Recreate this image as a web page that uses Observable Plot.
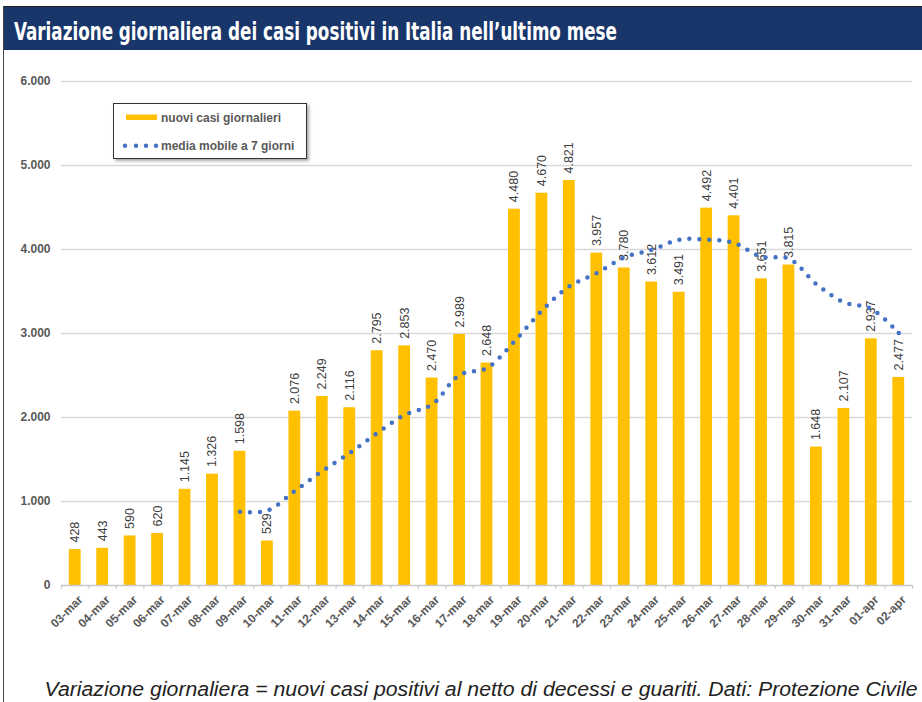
<!DOCTYPE html>
<html><head><meta charset="utf-8">
<script src="https://cdn.jsdelivr.net/npm/d3@7"></script>
<script src="https://cdn.jsdelivr.net/npm/@observablehq/plot@0.6"></script>
<style>
body{margin:0;background:#fff;font-family:"Liberation Sans",Arial,Helvetica,sans-serif;}
#page{position:relative;width:922px;height:702px;overflow:hidden;background:#fff;}
#frameTop{position:absolute;left:3px;top:6px;width:919px;height:1px;background:#222;}
#frameLeft{position:absolute;left:3px;top:6px;width:1px;height:696px;background:#444;}
#titlebar{position:absolute;left:4px;top:7px;width:918px;height:43px;background:#19366b;}
#titlebar svg{position:absolute;left:0;top:0;}
#chart{position:absolute;left:0;top:50px;}
#legend{position:absolute;left:113px;top:103px;width:192px;height:54px;border:1px solid #333;background:#fff;box-shadow:2px 2px 3px rgba(0,0,0,0.35);}
#legend svg{position:absolute;left:-1px;top:-1px;overflow:visible;}
#caption{position:absolute;left:0;top:660px;}
</style>
</head><body>
<div id="page">
  <div id="titlebar"></div>
  <div id="frameTop"></div>
  <div id="frameLeft"></div>
  <div id="chart"></div>
  <div id="legend"></div>
  <div id="caption"></div>
</div>
<script>
const titleText = "Variazione giornaliera dei casi positivi in Italia nell’ultimo mese";
const captionText = "Variazione giornaliera = nuovi casi positivi al netto di decessi e guariti. Dati: Protezione Civile";
const legendLabels = ["nuovi casi giornalieri", "media mobile a 7 giorni"];

const dates = ["03-mar","04-mar","05-mar","06-mar","07-mar","08-mar","09-mar","10-mar","11-mar","12-mar",
  "13-mar","14-mar","15-mar","16-mar","17-mar","18-mar","19-mar","20-mar","21-mar","22-mar","23-mar",
  "24-mar","25-mar","26-mar","27-mar","28-mar","29-mar","30-mar","31-mar","01-apr","02-apr"];
const newCases = [428,443,590,620,1145,1326,1598,529,2076,2249,2116,2795,2853,2470,2989,2648,4480,4670,4821,
  3957,3780,3612,3491,4492,4401,3651,3815,1648,2107,2937,2477];
const movingAvg = [null,null,null,null,null,null,879,893,1126,1363,1577,1813,2031,2155,2507,2589,2907,3272,3562,
  3719,3906,3995,4116,4118,4079,3912,3892,3587,3372,3293,3005];
const yTicks = [0,1000,2000,3000,4000,5000,6000];

const barColor = "#FFC000";
const lineColor = "#4472C4";

const it = d3.formatLocale({decimal:",", thousands:".", grouping:[3], currency:["","€"]});
const fmt = it.format(",.0f");

const data = dates.map((d,i)=>({date:d, cases:newCases[i], avg:movingAvg[i]}));
const avgData = data.filter(d => d.avg != null);

const W = 922, H = 600, ML = 61, MR = 10;
const step = (W - ML - MR) / dates.length;
const FONT = '"Liberation Sans", Arial, Helvetica, sans-serif';

const chart = Plot.plot({
  width: W, height: H,
  marginLeft: ML, marginRight: MR, marginTop: 31, marginBottom: 65,
  style: {fontFamily: FONT, background: "transparent", overflow: "visible"},
  x: {type: "band", domain: dates, paddingInner: 0.57, paddingOuter: 0.285, round: false, label: null, axis: null},
  y: {domain: [0, 6000], label: null},
  marks: [
    Plot.gridY(yTicks.filter(v => v > 0), {stroke: "#d9d9d9", strokeOpacity: 1, strokeWidth: 1.5}),
    Plot.axisY(yTicks, {tickSize: 0, tickPadding: 11, tickFormat: fmt, fontWeight: "bold", fontSize: 12, fill: "#595959", label: null}),
    Plot.barY(data, {x: "date", y: "cases", fill: barColor}),
    Plot.ruleY([0], {stroke: "#c8c8c8", strokeWidth: 1.5}),
    Plot.ruleX(dates, {x: d => d, y1: 0, y2: -45, dx: -step/2, stroke: "#c8c8c8", strokeWidth: 1.2}),
    Plot.ruleX([dates[dates.length-1]], {x: d => d, y1: 0, y2: -45, dx: step/2, stroke: "#c8c8c8", strokeWidth: 1.2}),
    Plot.text(dates, {x: d => d, frameAnchor: "bottom", text: d => d, rotate: -45, textAnchor: "end", lineAnchor: "top", dx: 2, dy: 9, fontSize: 12, fontWeight: "bold", fill: "#595959"}),
    Plot.text(data, {x: "date", y: "cases", text: d => fmt(d.cases), rotate: -90, textAnchor: "start", lineAnchor: "middle", dy: -7, fontSize: 12.5, fill: "#404040"}),
    Plot.line(avgData, {x: "date", y: "avg", curve: "catmull-rom", stroke: lineColor, strokeWidth: 4.5, strokeDasharray: "0 10", strokeLinecap: "round"}),
    Plot.dot(avgData.slice(-1), {x: "date", y: "avg", r: 2.25, fill: lineColor})
  ]
});
document.getElementById("chart").appendChild(chart);

// title
const tsvg = d3.select("#titlebar").append("svg").attr("width", 918).attr("height", 43);
tsvg.append("text").attr("x", 10).attr("y", 32.5)
  .attr("fill", "#fff")
  .attr("font-family", '"Liberation Sans Narrow","DejaVu Sans Condensed","Liberation Sans",Arial,sans-serif')
  .attr("font-weight", "bold").attr("font-size", 24)
  .attr("textLength", 603).attr("lengthAdjust", "spacingAndGlyphs")
  .text(titleText);

// legend
const lsvg = d3.select("#legend").append("svg").attr("width", 194).attr("height", 56);
lsvg.append("rect").attr("x", 13).attr("y", 11.5).attr("width", 31).attr("height", 5.5).attr("fill", barColor);
lsvg.selectAll("circle.ld").data([12, 23, 33, 43]).join("circle")
  .attr("cx", d => d).attr("cy", 42.7).attr("r", 2.2).attr("fill", lineColor);
lsvg.selectAll("text").data(legendLabels).join("text")
  .attr("x", 48).attr("y", (d,i) => i === 0 ? 18.5 : 46.5)
  .attr("font-size", 12).attr("font-weight", "bold").attr("fill", "#595959")
  .attr("font-family", FONT)
  .text(d => d);

// caption
const csvg = d3.select("#caption").append("svg").attr("width", 922).attr("height", 42);
csvg.append("text").attr("x", 44.5).attr("y", 36)
  .attr("fill", "#222").attr("font-style", "italic").attr("font-size", 20)
  .attr("font-family", FONT)
  .attr("textLength", 873).attr("lengthAdjust", "spacingAndGlyphs")
  .text(captionText);
</script>
</body></html>
